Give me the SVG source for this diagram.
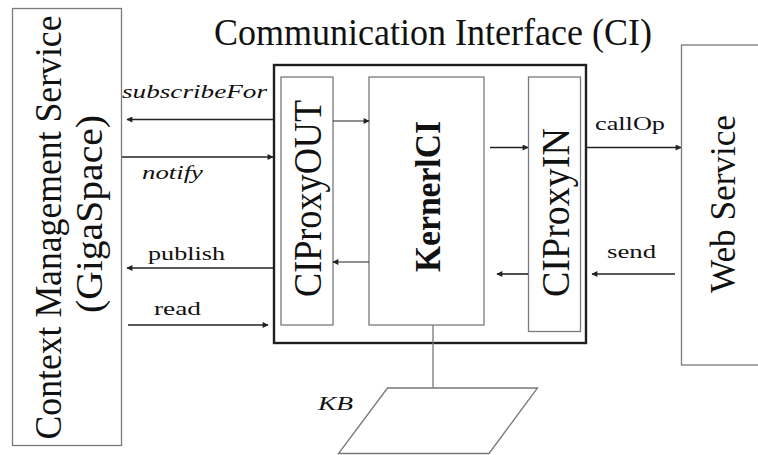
<svg xmlns="http://www.w3.org/2000/svg" width="758" height="455" viewBox="0 0 758 455">
  <style>
    .bg { fill: #ffffff; }
    .box { fill: #ffffff; stroke: #7a7a7a; stroke-width: 1.3; }
    .frame { fill: none; stroke: #1e1e1e; stroke-width: 2.4; }
    .big { font-family: "Liberation Serif", "Times New Roman", serif; fill: #111; }
    .lbl { font-family: "Liberation Serif", "Times New Roman", serif; font-size: 19px; fill: #111; }
    .it { font-style: italic; }
    .conn { stroke: #222; stroke-width: 1.6; fill: none; marker-end: url(#arrow); }
    .thin { stroke-width: 1.2; }
    .link { stroke: #777; stroke-width: 1.3; fill: none; }
  </style>
  <defs>
    <marker id="arrow" viewBox="0 0 10 10" refX="9" refY="5" markerWidth="7" markerHeight="6" markerUnits="userSpaceOnUse" orient="auto">
      <path d="M0,0 L10,5 L0,10 z" fill="#222"/>
    </marker>
  </defs>

  <rect class="bg" x="0" y="0" width="758" height="455"/>

  <!-- Title of the interface frame -->
  <text class="big" x="433" y="45" font-size="37" text-anchor="middle" textLength="438" lengthAdjust="spacingAndGlyphs">Communication Interface (CI)</text>

  <!-- Context Management Service -->
  <g id="cms">
    <rect class="box" x="12.5" y="8.5" width="109" height="437"/>
    <text class="big" font-size="38" text-anchor="middle" textLength="424" lengthAdjust="spacingAndGlyphs" transform="translate(61,227.5) rotate(-90)">Context Management Service</text>
    <text class="big" font-size="37" text-anchor="middle" textLength="198" lengthAdjust="spacingAndGlyphs" transform="translate(102,214) rotate(-90)">(GigaSpace)</text>
  </g>

  <!-- Communication Interface frame -->
  <g id="ci">
    <rect class="frame" x="274" y="65" width="312" height="278"/>
  </g>

  <g id="ciproxyout">
    <rect class="box" x="281" y="77" width="52" height="248"/>
    <text class="big" font-size="40" text-anchor="middle" textLength="197" lengthAdjust="spacingAndGlyphs" transform="translate(321,198.5) rotate(-90)">CIProxyOUT</text>
  </g>

  <g id="kernelci">
    <rect class="box" x="369" y="77" width="115" height="248"/>
    <text class="big" font-size="36" font-weight="bold" text-anchor="middle" textLength="151" lengthAdjust="spacingAndGlyphs" transform="translate(440,196.5) rotate(-90)">KernerlCI</text>
  </g>

  <g id="ciproxyin">
    <rect class="box" x="528.5" y="77" width="52" height="254.5"/>
    <text class="big" font-size="40" text-anchor="middle" textLength="169" lengthAdjust="spacingAndGlyphs" transform="translate(569,212.5) rotate(-90)">CIProxyIN</text>
  </g>

  <!-- Web Service -->
  <g id="webservice">
    <rect class="box" x="681.5" y="45" width="90" height="320"/>
    <text class="big" font-size="35" text-anchor="middle" textLength="178" lengthAdjust="spacingAndGlyphs" transform="translate(735,204) rotate(-90)">Web Service</text>
  </g>

  <!-- Knowledge base -->
  <g id="kb">
    <polygon class="link" points="387.5,388 537.5,388 489,453.5 338.5,453.5"/>
    <text class="lbl it" x="318" y="410" font-size="21" textLength="35" lengthAdjust="spacingAndGlyphs">KB</text>
  </g>

  <!-- Connectors -->
  <g id="connectors">
    <line class="conn" x1="274" y1="119.5" x2="127" y2="119.5"/>
    <line class="conn" x1="122" y1="157" x2="273" y2="157"/>
    <line class="conn" x1="274" y1="268" x2="127" y2="268"/>
    <line class="conn" x1="128" y1="325" x2="268" y2="325"/>
    <line class="conn thin" x1="333" y1="121" x2="369" y2="121"/>
    <line class="conn thin" x1="369" y1="262" x2="333" y2="262"/>
    <line class="conn" x1="490" y1="147.5" x2="528" y2="147.5"/>
    <line class="conn" x1="528" y1="274" x2="497" y2="274"/>
    <line class="conn" x1="586" y1="147.5" x2="681" y2="147.5"/>
    <line class="conn" x1="675" y1="274" x2="592" y2="274"/>
    <line class="link" x1="433" y1="325" x2="433" y2="388"/>

    <text class="lbl it" x="122" y="98" textLength="145" lengthAdjust="spacingAndGlyphs">subscribeFor</text>
    <text class="lbl it" x="142" y="179" textLength="61" lengthAdjust="spacingAndGlyphs">notify</text>
    <text class="lbl" x="148" y="260" textLength="77" lengthAdjust="spacingAndGlyphs">publish</text>
    <text class="lbl" x="154" y="315" textLength="47" lengthAdjust="spacingAndGlyphs">read</text>
    <text class="lbl" x="595" y="130" textLength="70" lengthAdjust="spacingAndGlyphs">callOp</text>
    <text class="lbl" x="607" y="258" textLength="49" lengthAdjust="spacingAndGlyphs">send</text>
  </g>
</svg>
